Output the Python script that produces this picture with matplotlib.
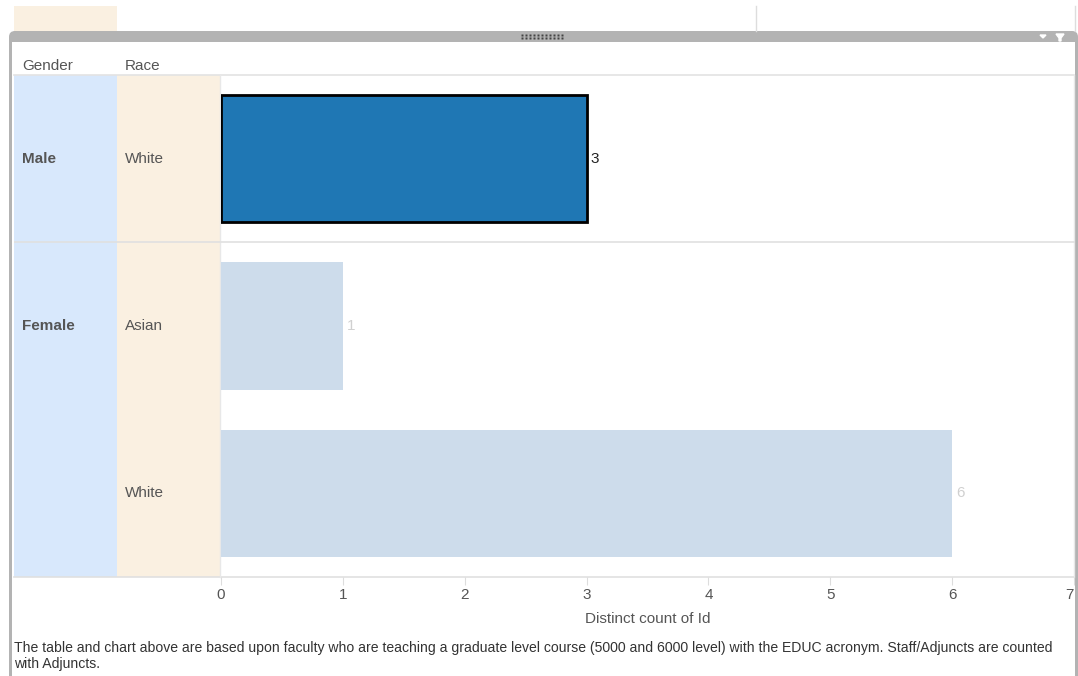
import numpy as np
import matplotlib.pyplot as plt
from matplotlib.patches import Rectangle, FancyBboxPatch, Polygon

plt.rcParams['font.family'] = ['Liberation Sans', 'DejaVu Sans']

# datos
genero = ["Male", "Female", ""]
raza = ["White", "Asian", "White"]
conteo = [3, 1, 6]
seleccion = [True, False, False]
ticks_x = [0, 1, 2, 3, 4, 5, 6, 7]
nota = ("The table and chart above are based upon faculty who are teaching a graduate level course "
        "(5000 and 6000 level) with the EDUC acronym. Staff/Adjuncts are counted\nwith Adjuncts.")

W, H = 1078, 676
fig = plt.figure(figsize=(W / 100, H / 100), dpi=100)

def caja(x0, y0, x1, y1):
    # convierte pixeles (origen arriba-izquierda) a fraccion de figura
    return [x0 / W, 1 - y1 / H, (x1 - x0) / W, (y1 - y0) / H]

# fondo en coordenadas de pixel
fondo = fig.add_axes([0, 0, 1, 1])
fondo.set_xlim(0, W)
fondo.set_ylim(H, 0)
fondo.axis('off')

# pestaña de arriba y lineas
fondo.add_patch(Rectangle((14, 6), 103, 26, color='#faf0e1', lw=0))
fondo.plot([756, 756], [6, 31], color='#dddddd', lw=1)
fondo.plot([1075, 1075], [6, 31], color='#dddddd', lw=1)

# marco gris del panel
fondo.add_patch(FancyBboxPatch((9, 31), 1069, 700, boxstyle="round,pad=0,rounding_size=6",
                               fc='#b3b3b3', ec='none'))
fondo.add_patch(Rectangle((12, 42), 1063, 700, color='white', lw=0))
# agarradera
for i in range(11):
    for j in range(2):
        fondo.plot(522 + i * 4, 34.5 + j * 3, 's', ms=1.6, color='#444444', mec='none')
fondo.add_patch(Polygon([[1040, 35], [1046, 35], [1043, 38]], color='white'))
fondo.add_patch(Polygon([[1056, 34], [1064, 34], [1061, 38], [1061, 41], [1059, 41], [1059, 38]], color='white'))

# encabezados
fondo.text(22, 66, "Gender", fontsize=11, color='#555555', va='center')
fondo.text(125, 66, "Race", fontsize=11, color='#555555', va='center')

# columnas de la tabla
fondo.add_patch(Rectangle((14, 75), 103, 502, color='#d8e8fc', lw=0))
fondo.add_patch(Rectangle((117, 75), 103, 502, color='#faf0e1', lw=0))
fondo.plot([14, 1074], [75, 75], color='#e3e3e3', lw=1.2)
fondo.plot([14, 1074], [577, 577], color='#e0e0e0', lw=1.2)
fondo.plot([220, 220], [75, 577], color='#e8e8e8', lw=1)
fondo.plot([1074, 1074], [75, 577], color='#e8e8e8', lw=1)

# eje de barras
ax = fig.add_axes(caja(221, 75, 1074, 577))
tabla = fig.add_axes(caja(14, 75, 220, 577))
tabla.patch.set_alpha(0)
ax.patch.set_alpha(0)
y = np.arange(len(conteo))
for a in (ax, tabla):
    a.set_ylim(len(conteo) - 0.5, -0.5)

colores = ['#1f77b4' if s else '#cddceb' for s in seleccion]
bordes = ['black' if s else 'none' for s in seleccion]
ax.barh(y, conteo, height=0.76, color=colores, edgecolor=bordes, linewidth=2)
for yi, v, s in zip(y, conteo, seleccion):
    ax.annotate(str(v), (v, yi), xytext=(3, 0), textcoords='offset points', va='center',
                fontsize=11, color='#222222' if s else '#d0d0d0')

ax.set_xlim(0, 7.0)
ax.set_xticks(ticks_x)
ax.set_yticks([])
for sp in ax.spines.values():
    sp.set_visible(False)
ax.tick_params(axis='x', length=6, color='#dddddd', labelsize=11, labelcolor='#555555', pad=2)
ax.get_xticklabels()[-1].set_horizontalalignment('right')
ax.set_xlabel("Distinct count of Id", fontsize=11, color='#555555', labelpad=7)

# separador entre generos
ax.axhline(0.5, color='#e0e0e0', lw=1.2, clip_on=False)
tabla.axhline(0.5, color='#e0e0e0', lw=1.2, xmin=0, xmax=1)

tabla.set_xlim(0, 206)
tabla.axis('off')
tabla.text(8, 0, genero[0], fontsize=11, fontweight='bold', color='#555555', va='center')
tabla.text(8, 1, genero[1], fontsize=11, fontweight='bold', color='#555555', va='center')
for yi, r in zip(y, raza):
    tabla.text(111, yi, r, fontsize=11, color='#555555', va='center')

fondo.text(14, 656, nota, fontsize=10.05, color='#333333', va='center', linespacing=1.2)

fig.savefig('out.png', dpi=100)
